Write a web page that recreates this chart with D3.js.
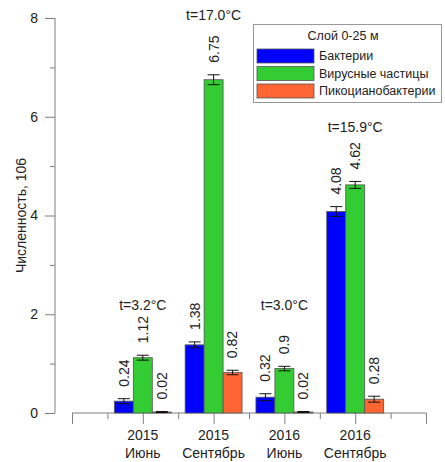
<!DOCTYPE html>
<html>
<head>
<meta charset="utf-8">
<script src="https://cdn.jsdelivr.net/npm/d3@7"></script>
<style>
  html, body { margin: 0; padding: 0; background: #fff; }
  svg { display: block; font-family: "Liberation Sans", Arial, sans-serif; }
</style>
</head>
<body>
<svg id="chart" width="445" height="462"></svg>
<script>
// Sampling campaigns (year / month)
const years = ["2015", "2015", "2016", "2016"];
const months = ["Июнь", "Сентябрь", "Июнь", "Сентябрь"];
const temperatures = ["t=3.2°C", "t=17.0°C", "t=3.0°C", "t=15.9°C"];

// Abundance, 10^6 (layer 0-25 m)
const seriesNames = ["Бактерии", "Вирусные частицы", "Пикоцианобактерии"];
const bacteria = [0.24, 1.38, 0.32, 4.08];
const viruses = [1.12, 6.75, 0.9, 4.62];
const pico = [0.02, 0.82, 0.02, 0.28];

// Standard errors
const bacteriaErr = [0.05, 0.06, 0.07, 0.1];
const virusesErr = [0.05, 0.1, 0.045, 0.07];
const picoErr = [0.01, 0.045, 0.01, 0.06];

const yTicks = [0, 2, 4, 6, 8];
const legendTitle = "Слой 0-25 м";
const yTitle = "Численность, 106";

// Height (in axis units) at which each temperature note sits
const tempLabelLevel = [2.08, 7.96, 2.08, 5.7];

const colors = ["#0000ff", "#33cc33", "#ff6633"];
const values = [bacteria, viruses, pico];
const errors = [bacteriaErr, virusesErr, picoErr];

const svg = d3.select("#chart");
const textColor = "#222";
const axisColor = "#7f7f7f";

const x = d3.scaleLinear().domain([0, 5]).range([72, 426]);
const y = d3.scaleLinear().domain([0, 8]).range([413, 18]);
const barW = x(0.268) - x(0);

// Y axis
const yAxis = svg.append("g").attr("transform", "translate(55,0)")
  .call(d3.axisLeft(y).tickValues(yTicks).tickSize(10).tickPadding(7).tickFormat(d3.format("d")));
yAxis.select(".domain").attr("stroke", axisColor).attr("d", `M0,${y(0)}V${y(8)}`);
yAxis.selectAll(".tick line").attr("stroke", axisColor);
yAxis.selectAll(".tick text").attr("fill", textColor).style("font-size", "14px");
svg.append("g").attr("transform", "translate(55,0)")
  .call(d3.axisLeft(y).tickValues([1, 3, 5, 7]).tickSize(5).tickFormat(""))
  .call(g => g.select(".domain").remove())
  .selectAll(".tick line").attr("stroke", axisColor);

svg.append("text")
  .attr("transform", `translate(21,${(y(0) + y(8)) / 2}) rotate(-90)`)
  .attr("text-anchor", "middle").attr("dy", "0.35em")
  .attr("fill", textColor).style("font-size", "14px")
  .text(yTitle);

// X axis: long ticks at whole units, short ticks between
const xAxis = svg.append("g").attr("transform", `translate(0,${y(0)})`)
  .call(d3.axisBottom(x).tickValues(d3.range(0, 6)).tickSize(11).tickFormat(""));
xAxis.select(".domain").attr("stroke", axisColor).attr("d", `M${x(0)},0H${x(5)}`);
xAxis.selectAll(".tick line").attr("stroke", axisColor);
svg.append("g").attr("transform", `translate(0,${y(0)})`)
  .call(d3.axisBottom(x).tickValues([0.5, 1.5, 2.5, 3.5, 4.5]).tickSize(6).tickFormat(""))
  .call(g => g.select(".domain").remove())
  .selectAll(".tick line").attr("stroke", axisColor);

// Category labels
const cats = svg.append("g");
years.forEach((yr, i) => {
  const t = cats.append("text")
    .attr("x", x(i + 1)).attr("text-anchor", "middle")
    .attr("fill", textColor).style("font-size", "14px");
  t.append("tspan").attr("x", x(i + 1)).attr("y", 440).text(yr);
  t.append("tspan").attr("x", x(i + 1)).attr("y", 458).text(months[i]);
});

// Bars, error bars, value labels
values.forEach((vals, s) => {
  const g = svg.append("g");
  const cx = i => x(i + 1) + (s - 1) * barW;
  g.selectAll("rect").data(vals).join("rect")
    .attr("x", (d, i) => cx(i) - barW / 2)
    .attr("y", d => y(d))
    .attr("width", barW)
    .attr("height", d => y(0) - y(d))
    .attr("fill", colors[s])
    .attr("stroke", "#555").attr("stroke-width", 0.8);

  const e = errors[s];
  const eb = g.selectAll("g.err").data(vals).join("g").attr("class", "err")
    .attr("stroke", "#111").attr("stroke-width", 1);
  eb.append("line")
    .attr("x1", (d, i) => cx(i)).attr("x2", (d, i) => cx(i))
    .attr("y1", (d, i) => y(d - e[i])).attr("y2", (d, i) => y(d + e[i]));
  eb.append("line")
    .attr("x1", (d, i) => cx(i) - 6).attr("x2", (d, i) => cx(i) + 6)
    .attr("y1", (d, i) => y(d + e[i])).attr("y2", (d, i) => y(d + e[i]));
  eb.append("line")
    .attr("x1", (d, i) => cx(i) - 6).attr("x2", (d, i) => cx(i) + 6)
    .attr("y1", (d, i) => y(d - e[i])).attr("y2", (d, i) => y(d - e[i]));

  g.selectAll("text").data(vals).join("text")
    .attr("transform", (d, i) => `translate(${cx(i)},${y(d + e[i]) - 12}) rotate(-90)`)
    .attr("dy", "0.35em")
    .attr("text-anchor", "start")
    .attr("fill", textColor).style("font-size", "14px")
    .text(d => String(d));
});

// Water temperature notes
svg.append("g").selectAll("text").data(temperatures).join("text")
  .attr("x", (d, i) => x(i + 1))
  .attr("y", (d, i) => y(tempLabelLevel[i]))
  .attr("text-anchor", "middle")
  .attr("fill", textColor).style("font-size", "14px")
  .text(d => d);

// Legend
const lg = svg.append("g");
lg.append("rect").attr("x", 253.5).attr("y", 24.5).attr("width", 188).attr("height", 78)
  .attr("fill", "#fff").attr("stroke", "#999").attr("stroke-width", 1);
lg.append("text").attr("x", 343).attr("y", 39.5).attr("text-anchor", "middle")
  .attr("fill", textColor).style("font-size", "12.5px").text(legendTitle);
seriesNames.forEach((name, i) => {
  const ry = 49 + i * 17.5;
  lg.append("rect").attr("x", 257).attr("y", ry).attr("width", 57).attr("height", 14)
    .attr("fill", colors[i]).attr("stroke", "#555").attr("stroke-width", 0.8);
  lg.append("text").attr("x", 319).attr("y", ry + 7).attr("dy", "0.35em")
    .attr("fill", textColor).style("font-size", "12.5px").text(name);
});
</script>
</body>
</html>
